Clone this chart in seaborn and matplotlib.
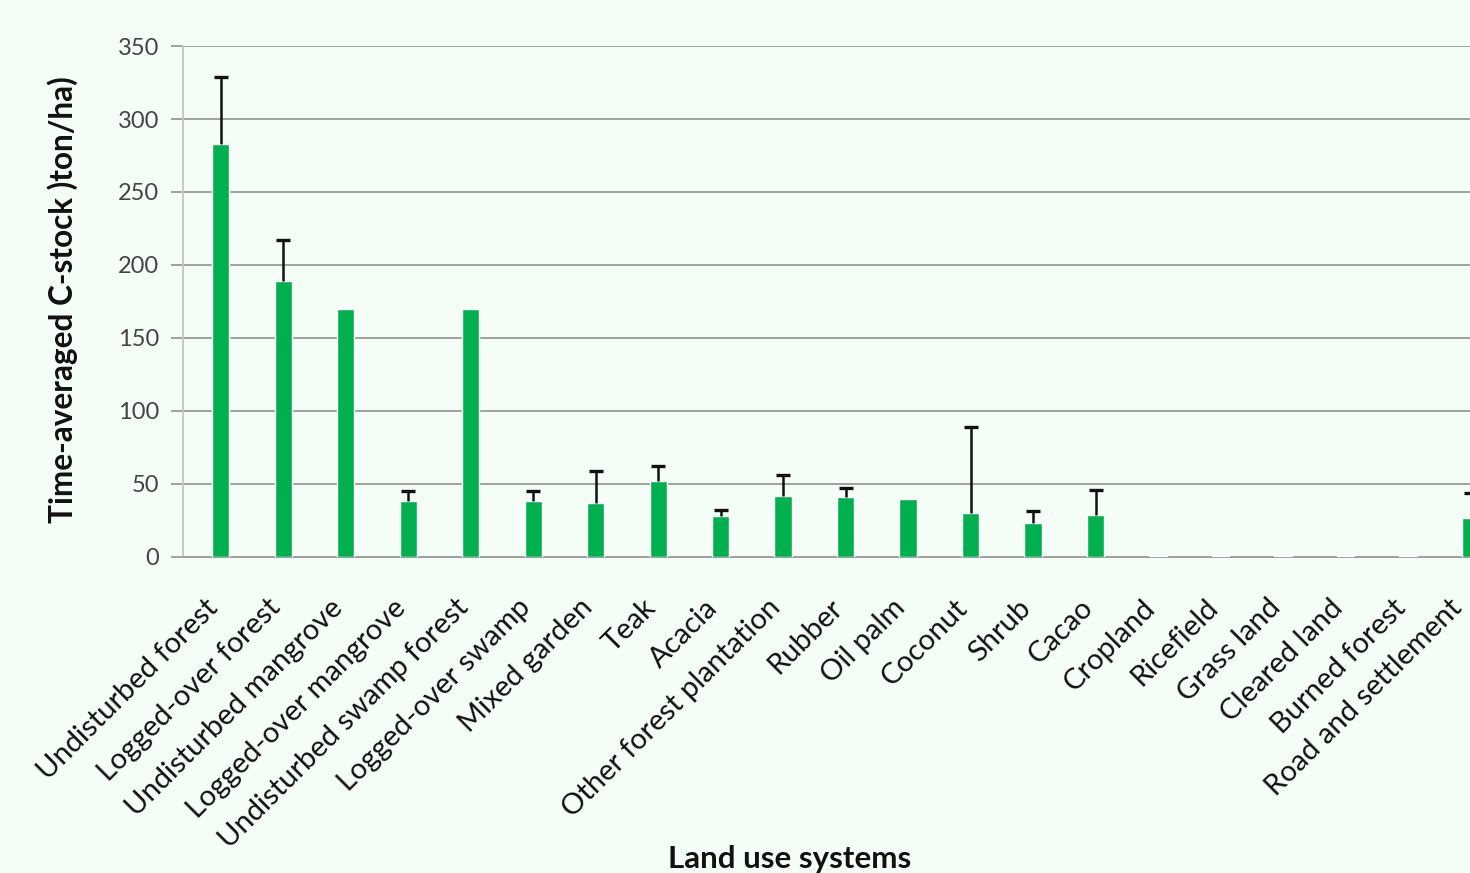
import matplotlib
matplotlib.use("Agg")
import matplotlib.pyplot as plt
from matplotlib.transforms import ScaledTranslation
import seaborn as sns
import numpy as np
import pandas as pd

categories = ["Undisturbed forest", "Logged-over forest", "Undisturbed mangrove",
              "Logged-over mangrove", "Undisturbed swamp forest", "Logged-over swamp",
              "Mixed garden", "Teak", "Acacia", "Other forest plantation", "Rubber",
              "Oil palm", "Coconut", "Shrub", "Cacao", "Cropland", "Ricefield",
              "Grass land", "Cleared land", "Burned forest", "Road and settlement"]
c_stock = [283, 189, 170, 38, 170, 38, 37, 52, 28, 42, 41, 40, 30, 23, 29,
           0.4, 0.4, 1, 1, 1, 27]
err_upper = [46, 28, 0, 7, 0, 7, 22, 10, 4.5, 14, 6.5, 0, 59, 8.5, 17,
             0, 0, 0, 0, 0, 17]
yticks = [0, 50, 100, 150, 200, 250, 300, 350]

df = pd.DataFrame({"cat": categories, "val": c_stock})

sns.set_theme(style="white")
plt.rcParams['font.family'] = ['Lato', 'DejaVu Sans']

bg = "#f5fdf7"
fig = plt.figure(figsize=(14.7, 8.73), dpi=100, facecolor=bg)
ax = fig.add_axes([0.1246, 0.362, 0.8971, 0.5853])
ax.set_facecolor(bg)

sns.barplot(data=df, x="cat", y="val", color="#00b04f", width=0.277,
            saturation=1, ax=ax, zorder=3)

x = np.arange(len(categories))
errs = np.array(err_upper, dtype=float)
mask = errs > 0
_, caps, _ = ax.errorbar(x[mask], np.array(c_stock)[mask],
                         yerr=[np.zeros(mask.sum()), errs[mask]],
                         fmt="none", ecolor="#111111", elinewidth=1.8,
                         capsize=5, capthick=2.4, zorder=4)
if len(caps) == 2:
    caps[0].set_visible(False)

ax.set_xlim(-0.6, 20.5)
ax.set_ylim(0, 350)
ax.set_yticks(yticks)
ax.yaxis.grid(True, color="#a0a0a0", linewidth=1.4, zorder=0)
ax.set_axisbelow(True)

for s in ["top", "right"]:
    ax.spines[s].set_visible(False)
ax.spines["left"].set_color("#c8c8c8")
ax.spines["left"].set_linewidth(1.4)
ax.spines["bottom"].set_color("#a0a0a0")
ax.spines["bottom"].set_linewidth(1.4)

ax.tick_params(axis="y", length=9, width=1.4, color="#a0a0a0",
               labelsize=17, labelcolor="#444444", pad=8.5, left=True)
ax.tick_params(axis="x", length=0, labelsize=21, labelcolor="#111111", pad=0)
labels = ax.get_xticklabels()
for i, lab in enumerate(labels):
    dx = -11.5 if i < len(labels) - 1 else -16
    off = ScaledTranslation(dx / 72, -27 / 72, fig.dpi_scale_trans)
    lab.set_rotation(45)
    lab.set_ha("right")
    lab.set_va("top")
    lab.set_rotation_mode("anchor")
    lab.set_transform(lab.get_transform() + off)

ax.set_xlabel("Land use systems", fontsize=22.5, fontweight="bold",
              color="#111111")
ax.xaxis.set_label_coords(0.46, -0.564)
ax.set_ylabel("Time-averaged C-stock )ton/ha)", fontsize=22.7,
              fontweight="bold", color="#111111")
ax.yaxis.set_label_coords(-0.080, 0.503)

fig.savefig("out.png", dpi=100, facecolor=bg)
